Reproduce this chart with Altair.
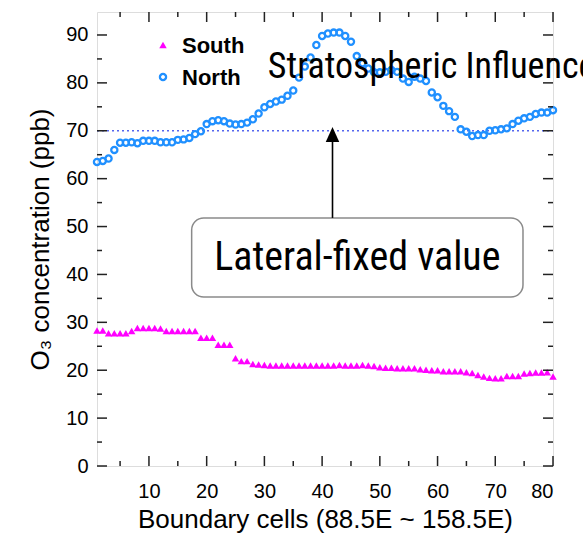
import altair as alt
import pandas as pd

# ---- data ----
cells = list(range(1, 81))
north = [63.5, 63.7, 64.2, 66.0, 67.5, 67.5, 67.6, 67.4, 67.9, 67.9,
         67.9, 67.6, 67.6, 67.6, 68.1, 68.2, 68.5, 69.3, 69.9, 71.4,
         72.0, 72.2, 72.0, 71.5, 71.3, 71.4, 71.7, 72.4, 73.6, 74.9,
         75.6, 76.1, 76.5, 77.3, 78.4, 81.1, 83.4, 85.3, 87.9, 89.8,
         90.3, 90.5, 90.5, 89.8, 88.6, 85.6, 84.1, 83.0, 82.2, 82.2,
         82.3, 82.7, 82.3, 80.9, 80.2, 81.3, 80.9, 80.4, 78.0, 77.0,
         75.2, 74.1, 72.9, 70.3, 69.8, 68.9, 69.1, 69.1, 70.0, 70.1,
         70.3, 70.5, 71.4, 72.1, 72.6, 72.9, 73.5, 73.8, 73.8, 74.3]
south = [28.3, 28.3, 27.7, 27.7, 27.7, 27.7, 28.2, 28.8, 28.8, 28.8,
         28.8, 28.7, 28.2, 28.2, 28.2, 28.2, 28.2, 28.2, 26.8, 26.8,
         26.8, 25.3, 25.3, 25.3, 22.5, 21.9, 21.9, 21.3, 21.2, 21.1,
         21.0, 21.0, 21.0, 21.0, 21.0, 21.0, 21.0, 21.0, 21.0, 21.0,
         21.0, 21.0, 21.1, 21.0, 21.0, 21.0, 21.1, 21.0, 20.9, 20.6,
         20.5, 20.5, 20.4, 20.4, 20.4, 20.4, 20.2, 20.1, 20.0, 20.0,
         19.8, 19.8, 19.8, 19.8, 19.6, 19.4, 19.0, 18.7, 18.4, 18.3,
         18.3, 18.8, 18.8, 18.8, 19.3, 19.4, 19.5, 19.5, 19.6, 18.7]

fixed_value = [70]
y_major = [0, 10, 20, 30, 40, 50, 60, 70, 80, 90]
y_minor = [5, 15, 25, 35, 45, 55, 65, 75, 85]
x_major = [10, 20, 30, 40, 50, 60, 70, 80]
x_minor = [5, 15, 25, 35, 45, 55, 65, 75]

legend_names = ["South", "North"]
strat_label = ["Stratospheric Influence"]
strat_pos = [30.6, 83.4]
lateral_label = ["Lateral-fixed value"]
lateral_pos = [46.1, 43.4]
box_x = [17.4, 74.8]
box_y = [35.3, 51.8]
arrow_x = [41.8]
arrow_y = [51.8, 69.2]

W, H = 456, 454
FONT = "Liberation Sans"
NARROW = "Roboto Condensed, Roboto"

df = pd.DataFrame({"cell": cells, "North": north, "South": south})

xs = alt.Scale(domain=[1, 80], zero=False, nice=False)
ys = alt.Scale(domain=[0, 94.8], zero=False, nice=False)

xax = alt.Axis(values=x_major, ticks=False, domain=False, grid=False,
               labelFontSize=20, labelFont=FONT, labelColor="black",
               labelPadding=15, title="Boundary cells (88.5E ~ 158.5E)",
               titleFont=FONT, titleFontSize=26, titleFontWeight="normal",
               titleColor="black", titlePadding=5)
yax = alt.Axis(values=y_major, ticks=False, domain=False, grid=False,
               labelFontSize=20, labelFont=FONT, labelColor="black",
               labelPadding=9, title="O₃ concentration (ppb)",
               titleFont=FONT, titleFontSize=26, titleFontWeight="normal",
               titleColor="black", titlePadding=12)

base = alt.Chart(df)

south_layer = base.mark_point(shape="triangle-up", filled=True, size=56,
                              color="#ff00ff", opacity=1).encode(
    x=alt.X("cell:Q", scale=xs, axis=xax),
    y=alt.Y("South:Q", scale=ys, axis=yax))
north_layer = base.mark_point(shape="circle", filled=False, size=38,
                              strokeWidth=2.3, color="#2090ff", opacity=1).encode(
    x=alt.X("cell:Q", scale=xs), y=alt.Y("North:Q", scale=ys))

hline = alt.Chart(pd.DataFrame({"v": fixed_value, "a": [cells[0]], "b": [cells[-1]]})).mark_rule(
    color="#5566ee", strokeDash=[2, 3], strokeWidth=1.6).encode(
    y=alt.Y("v:Q", scale=ys), x=alt.X("a:Q", scale=xs), x2="b:Q")

box = alt.Chart(pd.DataFrame({"x1": [box_x[0]], "x2": [box_x[1]],
                              "y1": [box_y[0]], "y2": [box_y[1]]})).mark_rect(
    fill="white", stroke="#8a8a8a", strokeWidth=1.5, cornerRadius=12).encode(
    x=alt.X("x1:Q", scale=xs), x2="x2:Q", y=alt.Y("y1:Q", scale=ys), y2="y2:Q")

lateral = alt.Chart(pd.DataFrame({"t": lateral_label, "x": [lateral_pos[0]],
                                  "y": [lateral_pos[1]]})).mark_text(
    font=NARROW, fontSize=40, align="center", baseline="middle", color="black").encode(
    x=alt.X("x:Q", scale=xs), y=alt.Y("y:Q", scale=ys), text="t:N")

arrow_line = alt.Chart(pd.DataFrame({"x": arrow_x, "y1": [arrow_y[0]], "y2": [arrow_y[1]]})).mark_rule(
    color="black", strokeWidth=1.6).encode(
    x=alt.X("x:Q", scale=xs), y=alt.Y("y1:Q", scale=ys), y2="y2:Q")
arrow_head = alt.Chart(pd.DataFrame({"x": arrow_x, "y": [arrow_y[1]]})).mark_point(
    shape="M0,-1L0.9,1L-0.9,1Z", filled=True, size=225, color="black", opacity=1).encode(
    x=alt.X("x:Q", scale=xs), y=alt.Y("y:Q", scale=ys))

strat = alt.Chart(pd.DataFrame({"t": strat_label, "x": [strat_pos[0]],
                                "y": [strat_pos[1]]})).mark_text(
    font=NARROW, fontSize=36, align="left", baseline="middle", color="black").encode(
    x=alt.X("x:Q", scale=xs), y=alt.Y("y:Q", scale=ys), text="t:N")

# legend (drawn inside the plot)
leg_s_sym = alt.Chart(pd.DataFrame({"n": [legend_names[0]]})).mark_point(
    shape="triangle-up", filled=True, size=56, color="#ff00ff", opacity=1).encode(
    x=alt.value(66), y=alt.value(33))
leg_n_sym = alt.Chart(pd.DataFrame({"n": [legend_names[1]]})).mark_point(
    shape="circle", filled=False, size=38, strokeWidth=2.3, color="#2090ff", opacity=1).encode(
    x=alt.value(66), y=alt.value(65))
leg_s_txt = alt.Chart(pd.DataFrame({"n": [legend_names[0]]})).mark_text(
    font=FONT, fontSize=22, fontWeight="bold", align="left", baseline="middle",
    color="black").encode(x=alt.value(85), y=alt.value(34), text="n:N")
leg_n_txt = alt.Chart(pd.DataFrame({"n": [legend_names[1]]})).mark_text(
    font=FONT, fontSize=22, fontWeight="bold", align="left", baseline="middle",
    color="black").encode(x=alt.value(85), y=alt.value(66), text="n:N")

# inside tick marks on all four sides
def yticks(vals, length):
    d = pd.DataFrame({"v": vals})
    left = alt.Chart(d).mark_rule(color="#222", strokeWidth=1.5).encode(
        y=alt.Y("v:Q", scale=ys), x=alt.value(0), x2=alt.value(length))
    right = alt.Chart(d).mark_rule(color="#222", strokeWidth=1.5).encode(
        y=alt.Y("v:Q", scale=ys), x=alt.value(W - length), x2=alt.value(W))
    return [left, right]

def xticks(vals, length):
    d = pd.DataFrame({"v": vals})
    bottom = alt.Chart(d).mark_rule(color="#222", strokeWidth=1.5).encode(
        x=alt.X("v:Q", scale=xs), y=alt.value(H), y2=alt.value(H - length))
    top = alt.Chart(d).mark_rule(color="#222", strokeWidth=1.5).encode(
        x=alt.X("v:Q", scale=xs), y=alt.value(0), y2=alt.value(length))
    return [bottom, top]

ticks = yticks(y_major, 10) + yticks(y_minor, 5) + xticks(x_major, 10) + xticks(x_minor, 5)

chart = alt.layer(
    south_layer, hline, north_layer, box, lateral, arrow_line, arrow_head,
    *ticks, leg_s_sym, leg_n_sym, leg_s_txt, leg_n_txt, strat
).properties(
    width=W, height=H,
    autosize=alt.AutoSizeParams(type="none"),
    padding={"left": 97, "top": 12, "right": 30, "bottom": 71},
).configure_view(stroke="black", strokeWidth=2).configure(background="white")

chart.save("out.html", embed_options={"renderer": "svg", "actions": False})
